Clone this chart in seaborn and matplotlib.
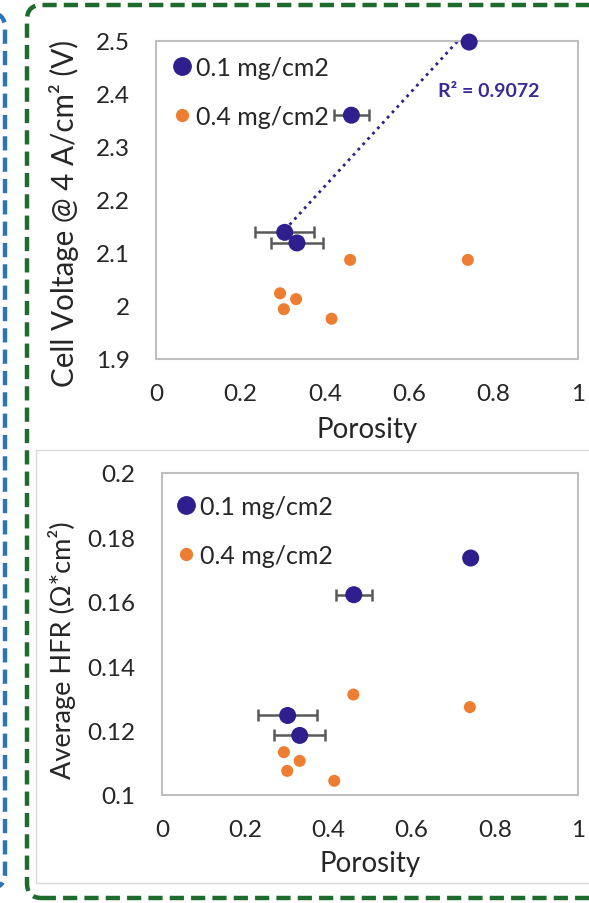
import numpy as np
import pandas as pd
import matplotlib
matplotlib.use("Agg")
import matplotlib.pyplot as plt
import seaborn as sns
from matplotlib.patches import FancyBboxPatch, Rectangle
from matplotlib.lines import Line2D

# ---------------- data ----------------
series_labels = ["0.1 mg/cm2", "0.4 mg/cm2"]

# Top panel: Cell voltage @ 4 A/cm2 vs porosity
v_low_x = [0.742, 0.463, 0.305, 0.334]
v_low_y = [2.498, 2.360, 2.139, 2.119]
v_low_xerr = [0.0, 0.041, 0.070, 0.062]
v_high_x = [0.460, 0.739, 0.294, 0.332, 0.303, 0.416]
v_high_y = [2.087, 2.087, 2.024, 2.013, 1.994, 1.976]
r2_label = "R² = 0.9072"

# Bottom panel: Average HFR vs porosity
h_low_x = [0.742, 0.461, 0.302, 0.331]
h_low_y = [0.1736, 0.1622, 0.1247, 0.1185]
h_low_xerr = [0.0, 0.043, 0.071, 0.061]
h_high_x = [0.460, 0.740, 0.293, 0.331, 0.301, 0.414]
h_high_y = [0.1312, 0.1273, 0.1133, 0.1106, 0.1075, 0.1044]

x_ticks = [0, 0.2, 0.4, 0.6, 0.8, 1]
x_tick_labels = ["0", "0.2", "0.4", "0.6", "0.8", "1"]
v_ticks = [1.9, 2.0, 2.1, 2.2, 2.3, 2.4, 2.5]
v_tick_labels = ["1.9", "2", "2.1", "2.2", "2.3", "2.4", "2.5"]
h_ticks = [0.10, 0.12, 0.14, 0.16, 0.18, 0.20]
h_tick_labels = ["0.1", "0.12", "0.14", "0.16", "0.18", "0.2"]

# ---------------- style ----------------
sns.set_theme(style="white")
plt.rcParams["font.family"] = ["Lato", "DejaVu Sans"]

BLUE = "#2F1F8E"
ORANGE = "#ED7D31"
ERR = "#595959"
FRAME = "#BFBFBF"
TEXT = "#262626"

fig = plt.figure(figsize=(5.89, 9.04), dpi=100)
W, H = 589, 904

def px_axes(l, t, r, b):
    return fig.add_axes([l / W, 1 - b / H, (r - l) / W, (b - t) / H])

ax1 = px_axes(156, 42, 578, 360)
ax2 = px_axes(162, 474, 578, 796)

def panel(ax, lx, ly, lxe, hx, hy, yticks, ylabels, ylim, ylabel, ylab_size,
          ylab_xy, xlab_y, leg_anchor):
    dl = pd.DataFrame({"Porosity": lx, "val": ly})
    dh = pd.DataFrame({"Porosity": hx, "val": hy})
    ax.errorbar(lx, ly, xerr=lxe, fmt="none", ecolor=ERR, elinewidth=1.8,
                capsize=4.5, capthick=1.8, zorder=3, clip_on=False)
    sns.scatterplot(data=dh, x="Porosity", y="val", ax=ax, color=ORANGE, s=75,
                    edgecolor="none", zorder=4, clip_on=False)
    sns.scatterplot(data=dl, x="Porosity", y="val", ax=ax, color=BLUE, s=150,
                    edgecolor="none", zorder=5, clip_on=False)
    ax.set_xlim(0, 1)
    ax.set_ylim(*ylim)
    ax.set_xticks(x_ticks)
    ax.set_xticklabels(x_tick_labels)
    ax.set_yticks(yticks)
    ax.set_yticklabels(ylabels)
    ax.tick_params(axis="both", length=0, labelsize=17.5, colors=TEXT)
    ax.tick_params(axis="x", pad=17)
    ax.tick_params(axis="y", pad=19)
    for sp in ax.spines.values():
        sp.set_color(FRAME)
        sp.set_linewidth(1.5)
    ax.set_xlabel("Porosity", fontsize=20, color=TEXT)
    ax.xaxis.label.set_va("center")
    ax.xaxis.set_label_coords(0.5, xlab_y)
    ax.set_ylabel(ylabel, fontsize=ylab_size, color=TEXT)
    ax.yaxis.label.set_va("center")
    ax.yaxis.set_label_coords(*ylab_xy)
    handles = [
        Line2D([], [], marker="o", linestyle="none", color=BLUE, markersize=12.5),
        Line2D([], [], marker="o", linestyle="none", color=ORANGE, markersize=8.5),
    ]
    ax.legend(handles, series_labels, loc="upper left", bbox_to_anchor=leg_anchor,
              frameon=False, fontsize=18, handletextpad=0.05, handlelength=1.0,
              labelspacing=1.05, borderaxespad=0, labelcolor=TEXT)

panel(ax1, v_low_x, v_low_y, v_low_xerr, v_high_x, v_high_y, v_ticks, v_tick_labels,
      (1.9, 2.5), "Cell Voltage @ 4 A/cm² (V)", 21.3, (-0.218, 0.46), -0.22,
      (0.008, 0.985))
panel(ax2, h_low_x, h_low_y, h_low_xerr, h_high_x, h_high_y, h_ticks, h_tick_labels,
      (0.10, 0.20), "Average HFR (Ω*cm²)", 19.5, (-0.24, 0.453), -0.21,
      (0.004, 0.963))

# linear trendline on the 0.1 mg/cm2 series (top panel)
coef = np.polyfit(v_low_x, v_low_y, 1)
tx = np.array([min(v_low_x), max(v_low_x)])
ax1.plot(tx, np.polyval(coef, tx), linestyle=(0, (1, 1.6)), color=BLUE, lw=2.0, zorder=2)
ax1.text(0.668, 2.406, r2_label, color="#3B2A96", fontsize=14, fontweight="bold",
         va="center", ha="left")

# ---------------- decorative frames ----------------
# thin grey frame around lower chart
fig.patches.append(Rectangle((36 / W, 1 - 884 / H), (620 - 36) / W, (884 - 451) / H,
                             transform=fig.transFigure, fill=False, edgecolor="#D9D9D9",
                             linewidth=1.0, zorder=0))
# green dashed rounded frame
fig.patches.append(FancyBboxPatch((27 / W, 1 - 899 / H), (640 - 27) / W, (899 - 6) / H,
                                  boxstyle="round,pad=0,rounding_size=0.025",
                                  transform=fig.transFigure, fill=False,
                                  edgecolor="#1E6B2E", linewidth=3.2,
                                  linestyle=(0, (3.2, 1.6)), zorder=0,
                                  mutation_aspect=W / H))
# blue dashed rounded frame (right edge only visible)
fig.patches.append(FancyBboxPatch((-200 / W, 1 - 889 / H), (205 / W), (889 - 14) / H,
                                  boxstyle="round,pad=0,rounding_size=0.025",
                                  transform=fig.transFigure, fill=False,
                                  edgecolor="#2E75B6", linewidth=3.2,
                                  linestyle=(0, (3.2, 1.6)), zorder=0,
                                  mutation_aspect=W / H))

fig.savefig("out.png", dpi=100, facecolor="white")
